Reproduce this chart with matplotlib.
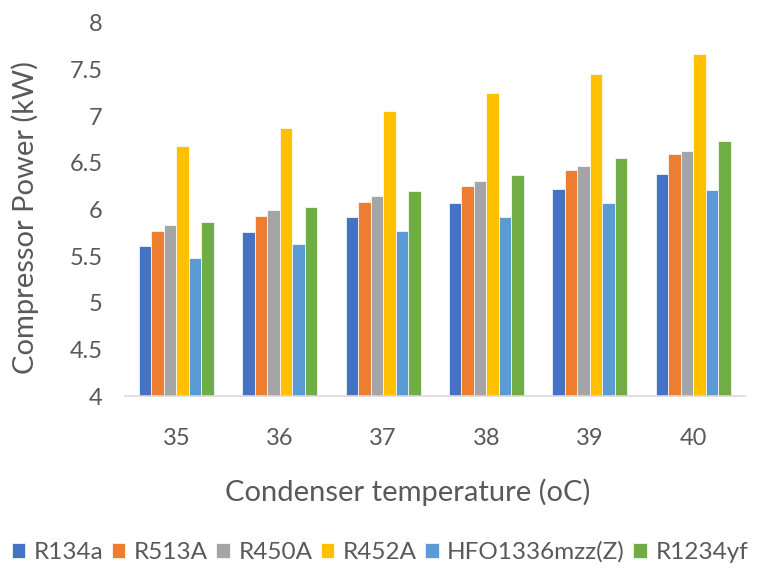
import matplotlib
matplotlib.use("Agg")
import matplotlib.pyplot as plt
import numpy as np

categories = ["35", "36", "37", "38", "39", "40"]
series_names = ["R134a", "R513A", "R450A", "R452A", "HFO1336mzz(Z)", "R1234yf"]
r134a = [5.61, 5.76, 5.92, 6.07, 6.22, 6.38]
r513a = [5.77, 5.93, 6.08, 6.25, 6.42, 6.59]
r450a = [5.83, 5.99, 6.14, 6.30, 6.46, 6.63]
r452a = [6.68, 6.87, 7.05, 7.25, 7.45, 7.66]
hfo1336 = [5.48, 5.63, 5.77, 5.92, 6.07, 6.21]
r1234yf = [5.86, 6.03, 6.20, 6.37, 6.55, 6.73]
yticks = [4, 4.5, 5, 5.5, 6, 6.5, 7, 7.5, 8]

colors = ["#4472C4", "#ED7D31", "#A5A5A5", "#FFC000", "#5B9BD5", "#70AD47"]
data = [r134a, r513a, r450a, r452a, hfo1336, r1234yf]

plt.rcParams['font.family'] = ['Lato', 'DejaVu Sans']
W, H = 760, 569
fig = plt.figure(figsize=(7.6, 5.69), dpi=100)
ax = fig.add_axes([0.164, 0.304, 0.816, 0.656])

x = np.arange(len(categories))
bw = 0.121
for i, (vals, name, c) in enumerate(zip(data, series_names, colors)):
    ax.bar(x + (i - 2.5) * bw, np.array(vals) - 4, bottom=4, width=bw,
           color=c, label=name, edgecolor='white', linewidth=0.5)

ax.set_ylim(4, 8)
ax.set_xlim(-0.5, len(categories) - 0.5)
ax.set_yticks(yticks)
ax.set_yticklabels([f"{t:g}" for t in yticks])
ax.set_xticks(x)
ax.set_xticklabels(categories)
ax.tick_params(axis='both', length=0, labelsize=17, colors='#595959')
ax.tick_params(axis='y', pad=16)
ax.tick_params(axis='x', pad=23)
for s in ['top', 'right', 'left']:
    ax.spines[s].set_visible(False)
ax.spines['bottom'].set_color('#D9D9D9')
ax.spines['bottom'].set_linewidth(1.2)

fig.text(25 / W, 1 - 217 / H, "Compressor Power (kW)", rotation=90,
         ha='center', va='center', fontsize=21, color='#595959')
fig.text(408 / W, 1 - 492 / H, "Condenser temperature (oC)",
         ha='center', va='center', fontsize=21, color='#595959')

leg = fig.legend(loc='lower center', ncol=6, bbox_to_anchor=(0.5, -0.028),
                 frameon=False, fontsize=17.5, handlelength=0.55, handleheight=0.6,
                 handletextpad=0.35, columnspacing=0.35, labelcolor='#595959')

fig.savefig("out.png", dpi=100)
